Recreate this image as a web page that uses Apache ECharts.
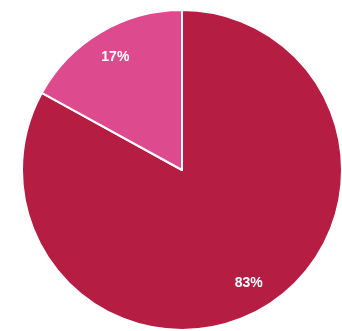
<!DOCTYPE html>
<html>
<head>
<meta charset="utf-8">
<script src="https://cdn.jsdelivr.net/npm/echarts@6/dist/echarts.min.js"></script>
<style>
  html, body { margin: 0; padding: 0; background: #ffffff; }
  #chart { width: 342px; height: 331px; }
</style>
</head>
<body>
<div id="chart"></div>
<script>
// Share breakdown, clockwise from 12 o'clock
const categories = ['A', 'B'];
const values = [83, 17];
const labels = ['83%', '17%'];
const colors = ['#B51E42', '#DE4A8E'];

const data = categories.map((name, i) => ({
  name: name,
  value: values[i],
  itemStyle: { color: colors[i] }
}));

const chart = echarts.init(document.getElementById('chart'), null, { renderer: 'canvas' });
chart.setOption({
  animation: false,
  series: [
    {
      type: 'pie',
      center: [182, 170],
      radius: [0, 160],
      startAngle: 90,
      clockwise: true,
      silent: true,
      itemStyle: { borderColor: '#ffffff', borderWidth: 2 },
      label: { show: false },
      labelLine: { show: false },
      data: data
    },
    {
      // label ring placed toward the rim
      type: 'pie',
      center: [182, 170],
      radius: [96, 160],
      startAngle: 90,
      clockwise: true,
      silent: true,
      itemStyle: { color: 'rgba(0,0,0,0)', borderWidth: 0 },
      label: {
        show: true,
        position: 'inside',
        color: '#ffffff',
        fontFamily: 'Liberation Sans, Arial, sans-serif',
        fontWeight: 'bold',
        fontSize: 14,
        formatter: p => labels[p.dataIndex]
      },
      labelLine: { show: false },
      data: categories.map((name, i) => ({ name: name, value: values[i] }))
    }
  ]
});
</script>
</body>
</html>
